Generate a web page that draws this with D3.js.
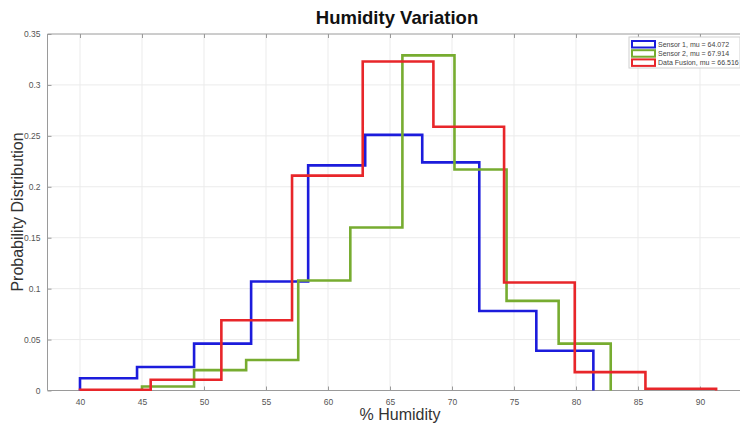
<!DOCTYPE html>
<html>
<head>
<meta charset="utf-8">
<script src="https://cdn.jsdelivr.net/npm/d3@7"></script>
<style>
  body { margin: 0; background: #fff; }
  svg { font-family: "Liberation Sans", Arial, sans-serif; }
</style>
</head>
<body>
<div id="chart"></div>
<script>
// histogram bin edges and probabilities
const sensor1Edges = [40, 44.6, 49.2, 53.8, 58.4, 63.0, 67.6, 72.2, 76.8, 81.4];
const sensor1Probs = [0.012, 0.023, 0.046, 0.107, 0.221, 0.251, 0.224, 0.078, 0.039];

const sensor2Edges = [45.0, 49.2, 53.4, 57.6, 61.8, 66.0, 70.2, 74.4, 78.6, 82.8];
const sensor2Probs = [0.004, 0.020, 0.030, 0.108, 0.160, 0.329, 0.217, 0.088, 0.046];

const fusionEdges = [40, 45.7, 51.4, 57.1, 62.8, 68.5, 74.2, 79.9, 85.6, 91.3];
const fusionProbs = [0.0008, 0.0105, 0.069, 0.211, 0.323, 0.259, 0.106, 0.018, 0.0017];

const seriesNames = ["Sensor 1, mu = 64.072", "Sensor 2, mu = 67.914", "Data Fusion, mu = 66.516"];
const seriesColors = ["#1c1cdc", "#77ac30", "#e8262a"];

const xTicks = [40, 45, 50, 55, 60, 65, 70, 75, 80, 85, 90];
const yTicks = [0, 0.05, 0.1, 0.15, 0.2, 0.25, 0.3, 0.35];

const width = 740, height = 427;
const plot = {left: 47.5, top: 34, right: 760, bottom: 390.5};

const svg = d3.select('#chart').append('svg')
    .attr('width', width)
    .attr('height', height);

const x = d3.scaleLinear().domain([40, 90]).range([80, 700]);
const y = d3.scaleLinear().domain([0, 0.35]).range([plot.bottom, plot.top]);

// grid
const grid = svg.append('g');
grid.selectAll('line.v')
    .data(xTicks).enter()
    .append('line')
    .attr('x1', d => x(d)).attr('x2', d => x(d))
    .attr('y1', plot.top).attr('y2', plot.bottom)
    .attr('stroke', '#ebebeb').attr('stroke-width', 1);
grid.selectAll('line.h')
    .data(yTicks.slice(1, -1)).enter()
    .append('line')
    .attr('x1', plot.left).attr('x2', plot.right)
    .attr('y1', d => y(d)).attr('y2', d => y(d))
    .attr('stroke', '#ebebeb').attr('stroke-width', 1);

// axes: inward ticks like matlab
const axisColor = '#9a9a9a';
const xAxis = svg.append('g')
    .attr('transform', 'translate(0,' + plot.bottom + ')')
    .call(d3.axisBottom(x).tickValues(xTicks).tickSizeInner(-4).tickSizeOuter(0).tickPadding(8));
const xAxisTop = svg.append('g')
    .attr('transform', 'translate(0,' + plot.top + ')')
    .call(d3.axisTop(x).tickValues(xTicks).tickSizeInner(-4).tickSizeOuter(0).tickFormat(''));
const yAxis = svg.append('g')
    .attr('transform', 'translate(' + plot.left + ',0)')
    .call(d3.axisLeft(y).tickValues(yTicks).tickSizeInner(-4).tickSizeOuter(0).tickPadding(7)
        .tickFormat(d => d === 0 ? '0' : d3.format('')(+d.toFixed(2))));

[xAxis, xAxisTop, yAxis].forEach(a => {
    a.select('.domain').remove();
    a.selectAll('line').attr('stroke', axisColor);
    a.selectAll('text').attr('fill', '#555').style('font-size', '8.5px')
        .style('font-family', '"Liberation Sans", Arial, sans-serif');
});

// axis lines, extended over the full plot box
svg.append('line')
    .attr('x1', plot.left).attr('x2', plot.right)
    .attr('y1', plot.bottom).attr('y2', plot.bottom)
    .attr('stroke', axisColor);
svg.append('line')
    .attr('x1', plot.left).attr('x2', plot.right)
    .attr('y1', plot.top).attr('y2', plot.top)
    .attr('stroke', axisColor);
svg.append('line')
    .attr('x1', plot.left).attr('x2', plot.left)
    .attr('y1', plot.top).attr('y2', plot.bottom)
    .attr('stroke', axisColor);

// stairs histograms
const histLine = d3.line()
    .x(d => x(d[0]))
    .y(d => y(d[1]))
    .curve(d3.curveStepAfter);

function stairs(edges, probs){
    let pts = [[edges[0], 0]];
    probs.forEach((p, i) => pts.push([edges[i], p]));
    pts.push([edges[edges.length - 1], 0]);
    return pts;
}

const allSeries = [
    stairs(sensor1Edges, sensor1Probs),
    stairs(sensor2Edges, sensor2Probs),
    stairs(fusionEdges, fusionProbs)
];

svg.append('g').selectAll('path')
    .data(allSeries).enter()
    .append('path')
    .attr('d', histLine)
    .attr('fill', 'none')
    .attr('stroke', (d, i) => seriesColors[i])
    .attr('stroke-width', 2.6)
    .attr('stroke-linejoin', 'miter');

// legend
const legend = svg.append('g').attr('transform', 'translate(629,37)');
legend.append('rect')
    .attr('width', 111).attr('height', 31)
    .attr('fill', '#fff').attr('stroke', '#d0d0d0');
const items = legend.selectAll('g.item')
    .data(seriesNames).enter()
    .append('g')
    .attr('transform', (d, i) => 'translate(3,' + (4 + i * 9.2) + ')');
items.append('rect')
    .attr('width', 23).attr('height', 6.5)
    .attr('fill', '#fff')
    .attr('stroke', (d, i) => seriesColors[i])
    .attr('stroke-width', 2);
items.append('text')
    .attr('x', 26).attr('y', 6)
    .attr('fill', '#444')
    .style('font-size', '7px')
    .text(d => d);

// titles
svg.append('text')
    .attr('x', 397).attr('y', 24)
    .attr('text-anchor', 'middle')
    .style('font-size', '18.5px').style('font-weight', 'bold')
    .attr('fill', '#111')
    .text('Humidity Variation');

svg.append('text')
    .attr('x', 400).attr('y', 420)
    .attr('text-anchor', 'middle')
    .style('font-size', '16px')
    .attr('fill', '#333')
    .text('% Humidity');

svg.append('text')
    .attr('transform', 'translate(23,212)rotate(-90)')
    .attr('text-anchor', 'middle')
    .style('font-size', '16px')
    .attr('fill', '#333')
    .text('Probability Distribution');
</script>
</body>
</html>
